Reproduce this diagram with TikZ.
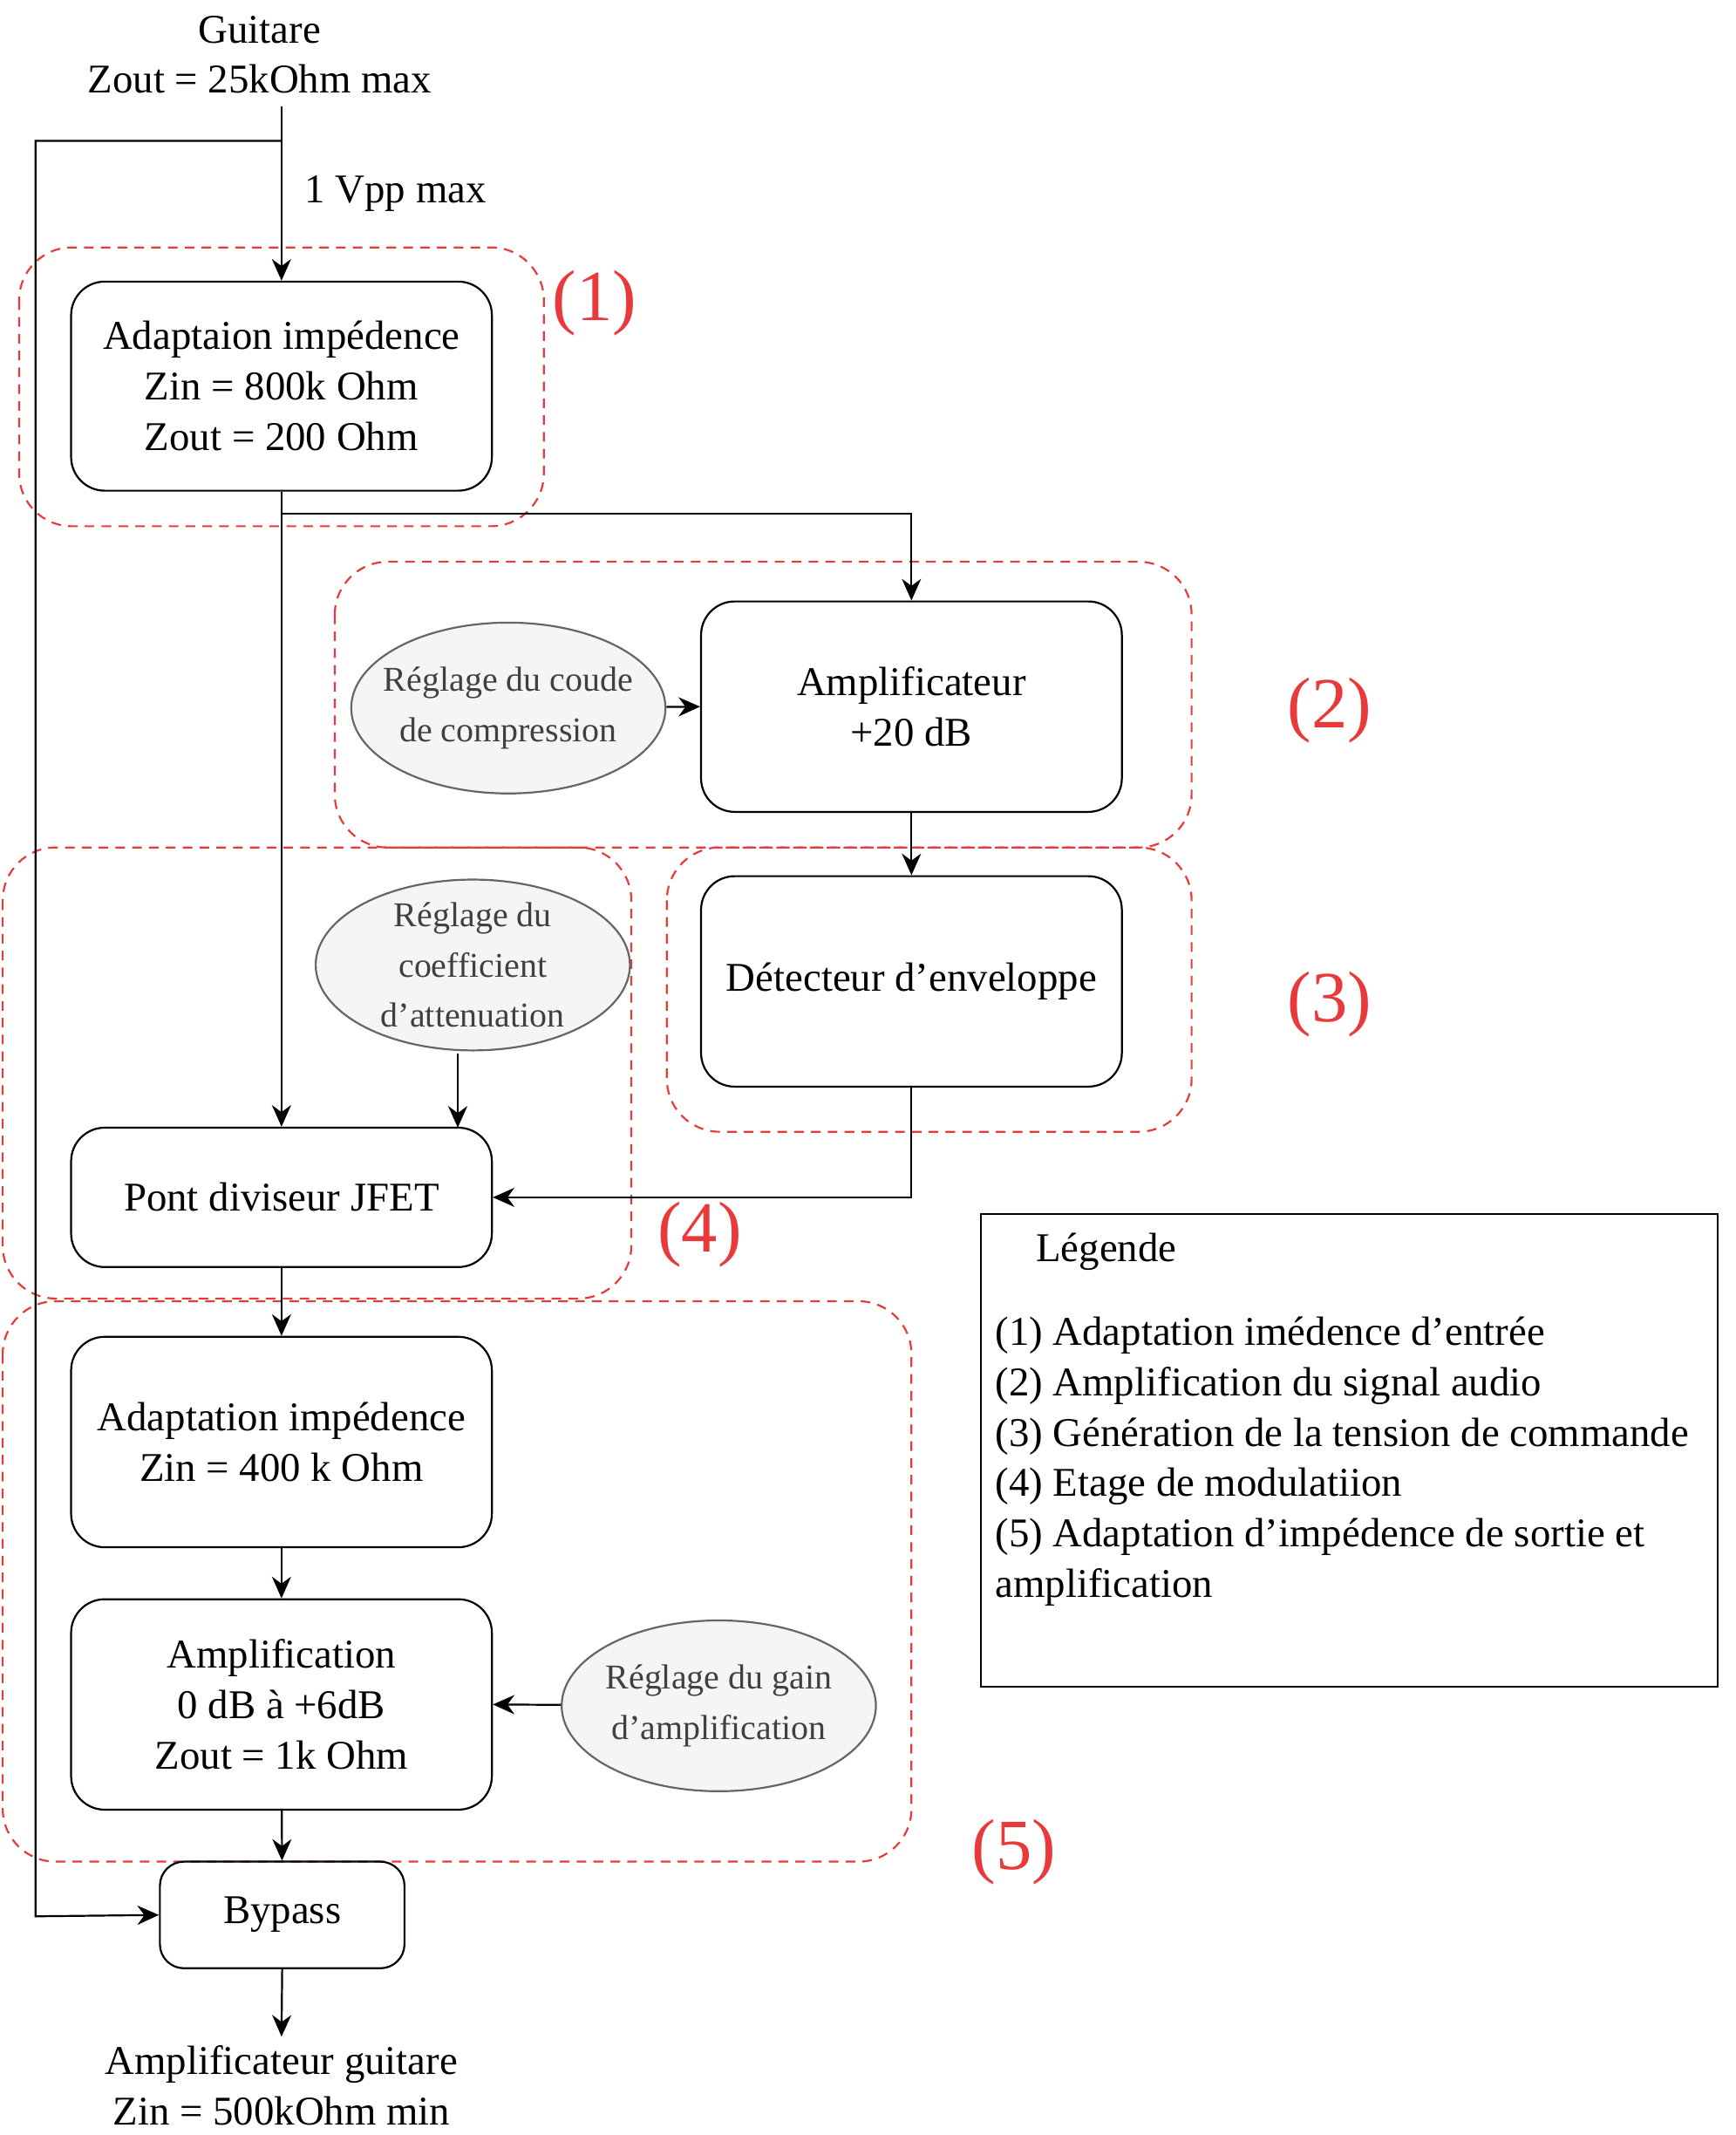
\documentclass[tikz,border=0pt]{standalone}
\usepackage{fontspec}
\setmainfont{Liberation Serif}
\usetikzlibrary{arrows.meta,shapes.geometric}
\definecolor{zonered}{HTML}{E83A3A}
\definecolor{ellfill}{HTML}{F5F5F5}
\definecolor{ellline}{HTML}{666666}
\newcommand{\apos}{\char"0027\relax}
\tikzset{
  bloc/.style={draw, thick, rounded corners=14pt, align=center, font=\fontsize{17}{21}\selectfont},
  reglage/.style={ellipse, draw=ellline, thick, fill=ellfill, align=center, inner xsep=-12pt, inner ysep=-6pt,
    minimum width=4.6cm, minimum height=2.5cm, font=\fontsize{14.5}{21}\selectfont, text=black!75},
  zone/.style={draw=zonered, thick, dash pattern=on 4pt off 3pt, rounded corners=22pt},
  numzone/.style={text=zonered, font=\fontsize{30}{34}\selectfont},
  fleche/.style={thick, -{Stealth[length=9pt,width=8pt]}},
  texte/.style={font=\fontsize{17}{21}\selectfont, align=center}
}
\begin{document}
\begin{tikzpicture}[x=0.02cm, y=-0.02cm]
  \useasboundingbox (0,0) rectangle (1270,1562);

  % Zones en pointilles
  \draw[zone] (14,181) rectangle (398,385);
  \draw[zone] (245,411) rectangle (872,620);
  \draw[zone] (488,620) rectangle (872,828);
  \draw[zone] (2,620) rectangle (462,950);
  \draw[zone] (2,952) rectangle (667,1362);

  % Blocs
  \node[texte] (guit) at (190,40) {Guitare\\Zout = 25kOhm max};
  \coordinate (entree) at (206,78);
  \coordinate (coin) at (206,103);
  \node[bloc, minimum width=6.16cm, minimum height=3.06cm] (adapt1) at (206,282.5)
    {Adaptaion impédence\\Zin = 800k Ohm\\Zout = 200 Ohm};
  \node[bloc, minimum width=6.16cm, minimum height=3.08cm] (ampli) at (667,517)
    {Amplificateur\\+20 dB};
  \node[bloc, minimum width=6.16cm, minimum height=3.08cm] (detect) at (667,718)
    {Détecteur d\apos enveloppe};
  \node[bloc, minimum width=6.16cm, minimum height=2.04cm] (pont) at (206,876)
    {Pont diviseur JFET};
  \node[bloc, minimum width=6.16cm, minimum height=3.08cm] (adapt2) at (206,1055)
    {Adaptation impédence\\Zin = 400 k Ohm};
  \node[bloc, minimum width=6.16cm, minimum height=3.08cm] (ampl2) at (206,1247)
    {Amplification\\0 dB à +6dB\\Zout = 1k Ohm};
  \node[bloc, rounded corners=10pt, minimum width=3.58cm, minimum height=1.56cm] (bypass) at (206.5,1401)
    {Bypass};
  \node[texte] (sortie) at (206,1526) {Amplificateur guitare\\Zin = 500kOhm min};

  % Reglages
  \node[reglage] (coude) at (372,518) {Réglage du coude\\de compression};
  \node[reglage] (coef) at (346,706) {Réglage du\\coefficient\\d\apos attenuation};
  \node[reglage] (gain) at (526,1248) {Réglage du gain\\d\apos amplification};

  % Numeros des zones
  \node[numzone] (n1) at (435,222) {(1)};
  \node[numzone] (n2) at (973,520) {(2)};
  \node[numzone] (n3) at (973,735) {(3)};
  \node[numzone] (n4) at (512,903) {(4)};
  \node[numzone] (n5) at (742,1355) {(5)};

  % Connexions
  \draw[fleche] (entree) -- (adapt1.north) node[pos=0.5, right=6pt, texte] {1 Vpp max};
  \draw[fleche] (coin) -- (26,103) -- (26,1402) -- (bypass.west);
  \draw[fleche] (adapt1.south) -- (pont.north);
  \draw[fleche] (206,376) -| (ampli.north);
  \draw[fleche] (coude) -- (ampli.west);
  \draw[fleche] (ampli) -- (detect);
  \draw[fleche] (detect.south) |- (pont.east);
  \draw[fleche] (335,771) -- (335,825);
  \draw[fleche] (pont) -- (adapt2);
  \draw[fleche] (adapt2) -- (ampl2);
  \draw[fleche] (gain) -- (ampl2.east);
  \draw[fleche] (ampl2) -- (bypass);
  \draw[fleche] (bypass.south) -- (206,1490);

  % Legende
  \draw[thick] (718,888) rectangle (1257,1234);
  \node[texte, anchor=west] (leg) at (752,916) {Légende};
  \node[texte, anchor=north west, align=left, inner sep=0pt, font=\fontsize{17}{21}\selectfont] (legtxt) at (728,963)
    {(1) Adaptation imédence d\apos entrée\\(2) Amplification du signal audio\\(3) Génération de la tension de commande\\(4) Etage de modulatiion\\(5) Adaptation d\apos impédence de sortie et\\amplification};
\end{tikzpicture}
\end{document}
